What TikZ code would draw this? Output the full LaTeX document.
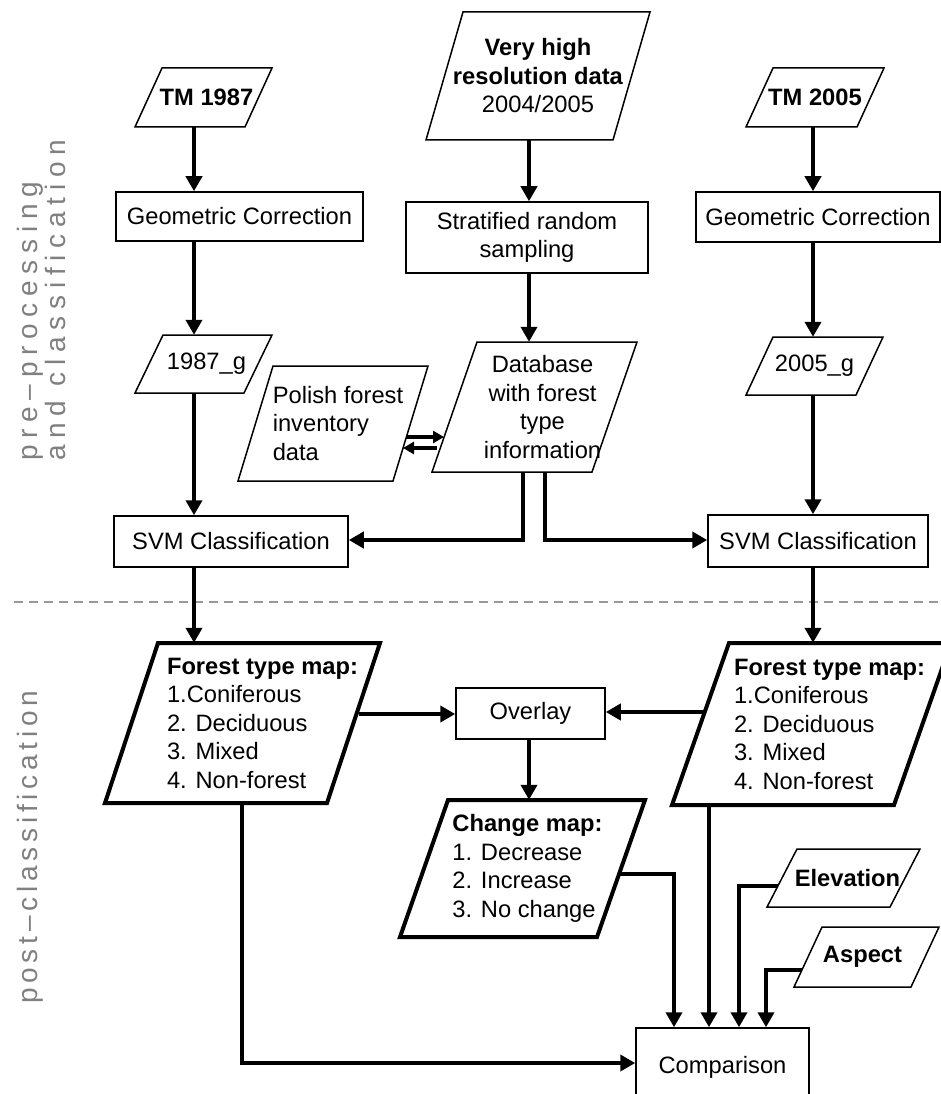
\documentclass[tikz,border=0pt]{standalone}
\usepackage{fontspec}
\setmainfont{Liberation Sans}
\usetikzlibrary{arrows.meta,calc}
\newcommand\pgram[9]{%
  \node[inner sep=0pt,minimum height=#6,#8] (#2) at (#3,#4) {#9};
  \draw[#1] ({#3-#5/2+#7/2},{#4-#6/2}) -- ({#3+#5/2+#7/2},{#4-#6/2})
     -- ({#3+#5/2-#7/2},{#4+#6/2}) -- ({#3-#5/2-#7/2},{#4+#6/2}) -- cycle;
}
\begin{document}
\fontsize{23.7}{28.5}\selectfont
\begin{tikzpicture}[x=1pt,y=-1pt,
  box/.style={draw,line width=1.5pt,inner sep=0pt},
  pgthin/.style={line width=1.5pt},
  pgthick/.style={line width=4pt},
  arr/.style={line width=4pt,-{Triangle[length=15pt,width=16pt]}},
  arrs/.style={line width=3.5pt,-{Triangle[length=11pt,width=12pt]}},
  sepline/.style={draw=black!40,line width=2.5pt,dash pattern=on 9pt off 6pt},
  side/.style={text=black!50,inner sep=0pt,font=\fontsize{28}{28}\selectfont\addfontfeature{LetterSpace=24}},
  sideb/.style={text=black!50,inner sep=0pt,font=\fontsize{28}{28}\selectfont\addfontfeature{LetterSpace=17}}
]
\useasboundingbox (0,0) rectangle (941,1094);
\clip (0,0) rectangle (941,1094);

% side labels and separator
\node[side,rotate=90,anchor=base west] (l1) at (37,461) {pre–processing};
\node[side,rotate=90,anchor=base west] (l2) at (65,461) {and classification};
\node[sideb,rotate=90,anchor=base west] (l3) at (37,1004) {post–classification};
\draw[sepline] (14,602) -- (941,602);

% column coordinates
\coordinate (cA) at (194,0);
\coordinate (cB) at (529,0);
\coordinate (cC) at (813,0);

% top inputs
\pgram{pgthin}{tm87}{203.5}{97.5}{110}{59}{27}{xshift=3}{\textbf{TM 1987}}
\pgram{pgthin}{vhr}{538}{76}{187}{128}{37}{align=center}{\textbf{Very high}\\\textbf{resolution data}\\2004/2005}
\pgram{pgthin}{tm05}{815}{97.5}{111}{59}{27}{}{\textbf{TM 2005}}

% processing boxes
\node[box,minimum width=247,minimum height=49] (gc1) at (239.5,216.5) {Geometric Correction};
\node[box,minimum width=242,minimum height=71,align=center] (strat) at (527,237.5) {Stratified random\\sampling};
\node[box,minimum width=244,minimum height=50] (gc2) at (818,217) {Geometric Correction};

\pgram{pgthin}{g87}{203.5}{364}{109}{58}{28}{xshift=3}{1987\_g}
\pgram{pgthin}{g05}{814.5}{366}{110}{58}{27}{}{2005\_g}
\pgram{pgthin}{pol}{333}{423.5}{155}{115}{35}{align=left,xshift=5}{Polish forest\\inventory\\data}
\pgram{pgthin}{db}{534.5}{407}{160}{130}{45}{align=center,xshift=8}{Database\\with forest\\type\\information}

\node[box,minimum width=234,minimum height=51] (svm1) at (231,541.5) {SVM Classification};
\node[box,minimum width=220,minimum height=52] (svm2) at (818,541) {SVM Classification};

% post classification
\pgram{pgthick}{fm1}{242.5}{723}{222}{160}{53}{align=left,xshift=20}{\textbf{Forest type map:}\\1.Coniferous\\2. Deciduous\\3. Mixed\\4. Non-forest}
\pgram{pgthick}{fm2}{811.5}{724}{222}{162}{57}{align=left,xshift=18}{\textbf{Forest type map:}\\1.Coniferous\\2. Deciduous\\3. Mixed\\4. Non-forest}
\node[box,minimum width=149,minimum height=51] (ovl) at (530.5,713.5) {Overlay};
\pgram{pgthick}{chg}{522.5}{868.5}{197}{137}{48}{align=left,xshift=5}{\textbf{Change map:}\\1. Decrease\\2. Increase\\3. No change}
\pgram{pgthin}{elv}{843.5}{878}{123}{58}{30}{xshift=4}{\textbf{Elevation}}
\pgram{pgthin}{asp}{866.5}{957}{117}{60}{28}{xshift=-4}{\textbf{Aspect}}
\node[box,minimum width=173,minimum height=78] (cmp) at (722.5,1067) {Comparison};

% connector helper points
\coordinate (dbL) at (523,0);
\coordinate (dbR) at (545,0);
\coordinate (polr) at (406,437);
\coordinate (dbl) at (444,437);
\coordinate (dbl2) at (437,448);
\coordinate (polr2) at (403,448);
\coordinate (fm1r) at (358.5,714);
\coordinate (fm2l) at (705,712);
\coordinate (chgr) at (619,874);
\coordinate (elvl) at (778,886);
\coordinate (aspl) at (802,970);
\coordinate (xA) at (242,0);
\coordinate (xC1) at (674,0);
\coordinate (xC2) at (709,0);
\coordinate (xC3) at (739,0);
\coordinate (xC4) at (766,0);

% connectors
\draw[arr] (tm87.south -| cA) -- (gc1.north -| cA);
\draw[arr] (vhr.south -| cB) -- (strat.north -| cB);
\draw[arr] (tm05.south -| cC) -- (gc2.north -| cC);
\draw[arr] (gc1.south -| cA) -- (g87.north -| cA);
\draw[arr] (strat.south -| cB) -- (db.north -| cB);
\draw[arr] (gc2.south -| cC) -- (g05.north -| cC);
\draw[arr] (g87.south -| cA) -- (svm1.north -| cA);
\draw[arr] (g05.south -| cC) -- (svm2.north -| cC);
\draw[arrs] (polr) -- (dbl);
\draw[arrs] (dbl2) -- (polr2);
\draw[arr] (db.south -| dbL) |- ([yshift=1.5pt]svm1.east);
\draw[arr] (db.south -| dbR) |- ([yshift=1pt]svm2.west);
\draw[arr] (svm1.south -| cA) -- (fm1.north -| cA);
\draw[arr] (svm2.south -| cC) -- (fm2.north -| cC);
\draw[arr] (fm1r) -- (fm1r -| ovl.west);
\draw[arr] (fm2l) -- (fm2l -| ovl.east);
\draw[arr] (ovl.south -| cB) -- (chg.north -| cB);
\draw[arr] (chgr) -| (cmp.north -| xC1);
\draw[arr] (fm2.south -| xC2) -- (cmp.north -| xC2);
\draw[arr] (elvl) -| (cmp.north -| xC3);
\draw[arr] (aspl) -| (cmp.north -| xC4);
\draw[arr] (fm1.south -| xA) |- ([yshift=4pt]cmp.west);
\end{tikzpicture}
\end{document}
